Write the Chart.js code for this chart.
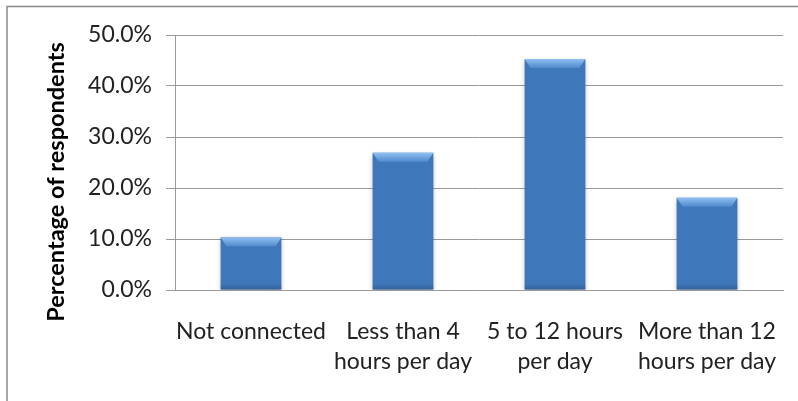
<!DOCTYPE html>
<html>
<head>
<meta charset="utf-8">
<script src="https://cdn.jsdelivr.net/npm/chart.js"></script>
<style>
  html, body { margin: 0; padding: 0; background: #fff; }
  #wrap { width: 798px; height: 401px; position: relative; }
</style>
</head>
<body>
<div id="wrap"><canvas id="chart" width="798" height="401"></canvas></div>
<script>
// 데이터
const categories = [
    ['Not connected'],
    ['Less than 4', 'hours per day'],
    ['5 to 12 hours', 'per day'],
    ['More than 12', 'hours per day']
];
const respondentShare = [10.3, 26.9, 45.3, 18.1];
const yTitle = 'Percentage of respondents';
const yMin = 0;
const yMax = 50;
const yStep = 10;

Chart.defaults.font.family = 'Lato, "Open Sans", sans-serif';
Chart.defaults.color = '#222';

// 막대 본체 그라데이션 (좌우 어둡게)
function barFill(ctx) {
    const el = ctx.element;
    const c = ctx.chart.ctx;
    if (!el || el.width === undefined || isNaN(el.x)) return '#3f77bb';
    const left = el.x - el.width / 2;
    const g = c.createLinearGradient(left, 0, left + el.width, 0);
    g.addColorStop(0, '#2b5790');
    g.addColorStop(0.07, '#3f76b8');
    g.addColorStop(0.5, '#437cc0');
    g.addColorStop(0.93, '#396daf');
    g.addColorStop(1, '#264f85');
    return g;
}

// 외곽선, 그림자, 윗면 베벨, y축 제목
const decorPlugin = {
    id: 'decor',
    beforeDraw(chart) {
        const c = chart.ctx;
        c.save();
        c.strokeStyle = '#8a8a8a';
        c.lineWidth = 1.5;
        c.beginPath();
        c.moveTo(7, 401);
        c.lineTo(7, 6.5);
        c.lineTo(798, 6.5);
        c.stroke();
        c.restore();
    },
    beforeDatasetsDraw(chart) {
        const c = chart.ctx;
        c.save();
        c.shadowColor = 'rgba(0,0,0,0.35)';
        c.shadowBlur = 5;
        c.shadowOffsetY = 2;
    },
    afterDatasetsDraw(chart) {
        const c = chart.ctx;
        c.restore();
        const meta = chart.getDatasetMeta(0);
        meta.data.forEach(bar => {
            const left = bar.x - bar.width / 2;
            const right = bar.x + bar.width / 2;
            const top = bar.y;
            const bottom = bar.base;
            const bevel = 9;
            const side = 6;
            c.save();
            // 윗면
            let g = c.createLinearGradient(0, top, 0, top + bevel);
            g.addColorStop(0, '#8fc0f2');
            g.addColorStop(1, '#5189ca');
            c.fillStyle = g;
            c.beginPath();
            c.moveTo(left, top);
            c.lineTo(right, top);
            c.lineTo(right - side, top + bevel);
            c.lineTo(left + side, top + bevel);
            c.closePath();
            c.fill();
            // 아랫면 어둡게
            g = c.createLinearGradient(0, bottom - 6, 0, bottom);
            g.addColorStop(0, 'rgba(30,60,100,0)');
            g.addColorStop(1, 'rgba(30,60,100,0.35)');
            c.fillStyle = g;
            c.fillRect(left, bottom - 6, right - left, 6);
            c.restore();
        });
    },
    afterDraw(chart) {
        const c = chart.ctx;
        c.save();
        c.translate(56, 182);
        c.rotate(-Math.PI / 2);
        c.font = 'bold 23.5px Lato, "Open Sans", sans-serif';
        c.fillStyle = '#000';
        c.textAlign = 'center';
        c.textBaseline = 'middle';
        c.fillText(yTitle, 0, 0);
        c.restore();
    }
};

new Chart(document.getElementById('chart'), {
    type: 'bar',
    data: {
        labels: categories,
        datasets: [{
            data: respondentShare,
            backgroundColor: barFill,
            borderWidth: 0,
            categoryPercentage: 1,
            barPercentage: 0.4
        }]
    },
    options: {
        responsive: false,
        animation: false,
        devicePixelRatio: 1,
        layout: { padding: { left: 0, top: 35, right: 15, bottom: 0 } },
        plugins: {
            legend: { display: false },
            tooltip: { enabled: false }
        },
        scales: {
            x: {
                grid: { display: false, drawTicks: false },
                border: { display: true, color: '#9a9a9a' },
                ticks: {
                    font: { size: 23, lineHeight: 1.28 },
                    color: '#222',
                    padding: 27,
                    maxRotation: 0,
                    autoSkip: false
                },
                afterFit(scale) {
                    scale.height = 111;
                    scale.paddingLeft = 0;
                    scale.paddingRight = 0;
                }
            },
            y: {
                min: yMin,
                max: yMax,
                grid: { color: '#9a9a9a', lineWidth: 1, tickLength: 9 },
                border: { display: true, color: '#9a9a9a' },
                ticks: {
                    stepSize: yStep,
                    padding: 14,
                    font: { size: 23 },
                    color: '#222',
                    callback: v => v.toFixed(1) + '%'
                },
                afterFit(scale) { scale.width = 175; }
            }
        }
    },
    plugins: [decorPlugin]
});
</script>
</body>
</html>
